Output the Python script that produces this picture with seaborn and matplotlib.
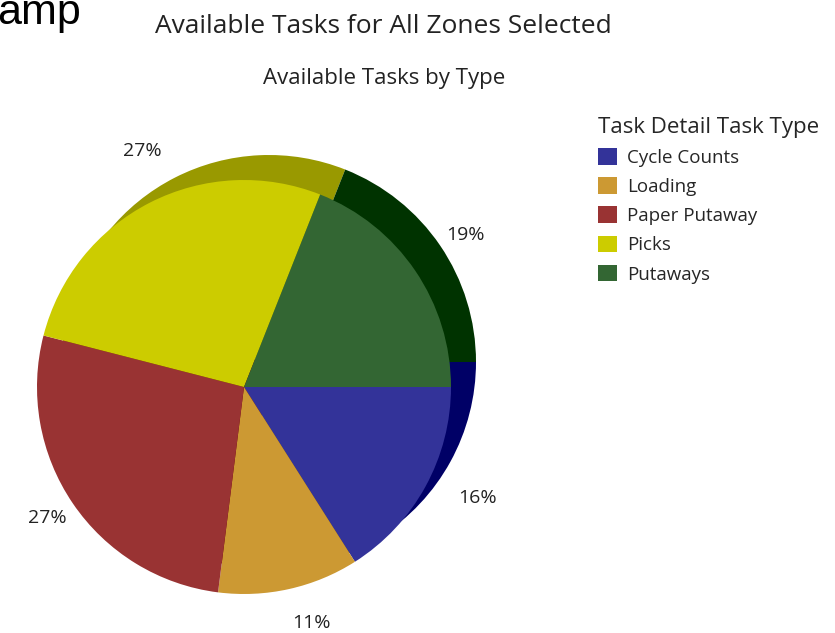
import matplotlib
matplotlib.use("Agg")
import numpy as np
import matplotlib.pyplot as plt
import seaborn as sns

# data
task_types = ["Cycle Counts", "Loading", "Paper Putaway", "Picks", "Putaways"]
task_share = [16, 11, 27, 27, 19]
front_colors = ["#333399", "#CC9933", "#993333", "#CCCC00", "#336633"]
shadow_colors = ["#000066", "#996600", "#660000", "#999900", "#003300"]

sns.set_theme(style="white")
plt.rcParams["font.family"] = ["Open Sans", "DejaVu Sans"]

W, H = 835, 633
fig = plt.figure(figsize=(W / 100, H / 100), dpi=100)

# pie: centre at (244, 387) px from top-left, radius 207 px
R = 207
cx, cy = 244, H - 387
lo, hi = -1.15, 1.45
ax = fig.add_axes([(cx + lo * R) / W, (cy + lo * R) / H,
                   (hi - lo) * R / W, (hi - lo) * R / H])

off = 25 / R
# shadow copy, shifted up and right
ax.pie(task_share, colors=sns.color_palette(shadow_colors), startangle=0,
       counterclock=False, center=(off, off), radius=1,
       wedgeprops=dict(linewidth=0))
wedges, _ = ax.pie(task_share, colors=sns.color_palette(front_colors),
                   startangle=0, counterclock=False, center=(0, 0),
                   radius=1, wedgeprops=dict(linewidth=0))
ax.set_xlim(lo, hi)
ax.set_ylim(lo, hi)
ax.set_aspect("equal")
ax.axis("off")

# percent labels around the pie + shadow block
total = sum(task_share)
for w, v in zip(wedges, task_share):
    mid = np.deg2rad((w.theta1 + w.theta2) / 2)
    ax.text(off / 2 + 1.22 * np.cos(mid), off / 2 - 2 / R + 1.22 * np.sin(mid),
            f"{v / total * 100:.0f}%", ha="center", va="center",
            fontsize=14, color="#222222")

fig.text(383 / W, 1 - 33 / H, "Available Tasks for All Zones Selected",
         ha="center", va="baseline", fontsize=19, color="#222222")
fig.text(384 / W, 1 - 84 / H, "Available Tasks by Type",
         ha="center", va="baseline", fontsize=16, color="#222222")
fig.text(-3 / W, 1 - 24 / H, "amp", ha="left", va="baseline", fontsize=31,
         family=["Liberation Sans", "DejaVu Sans"], color="black")

leg = fig.legend(wedges, task_types, title="Task Detail Task Type",
                 loc="upper left", bbox_to_anchor=(581 / W, 1 - 100 / H),
                 frameon=False, fontsize=13.5, title_fontsize=16,
                 handlelength=1.0, handleheight=1.0, handletextpad=0.55,
                 labelspacing=0.55, alignment="left")

fig.savefig("out.png", dpi=100)
